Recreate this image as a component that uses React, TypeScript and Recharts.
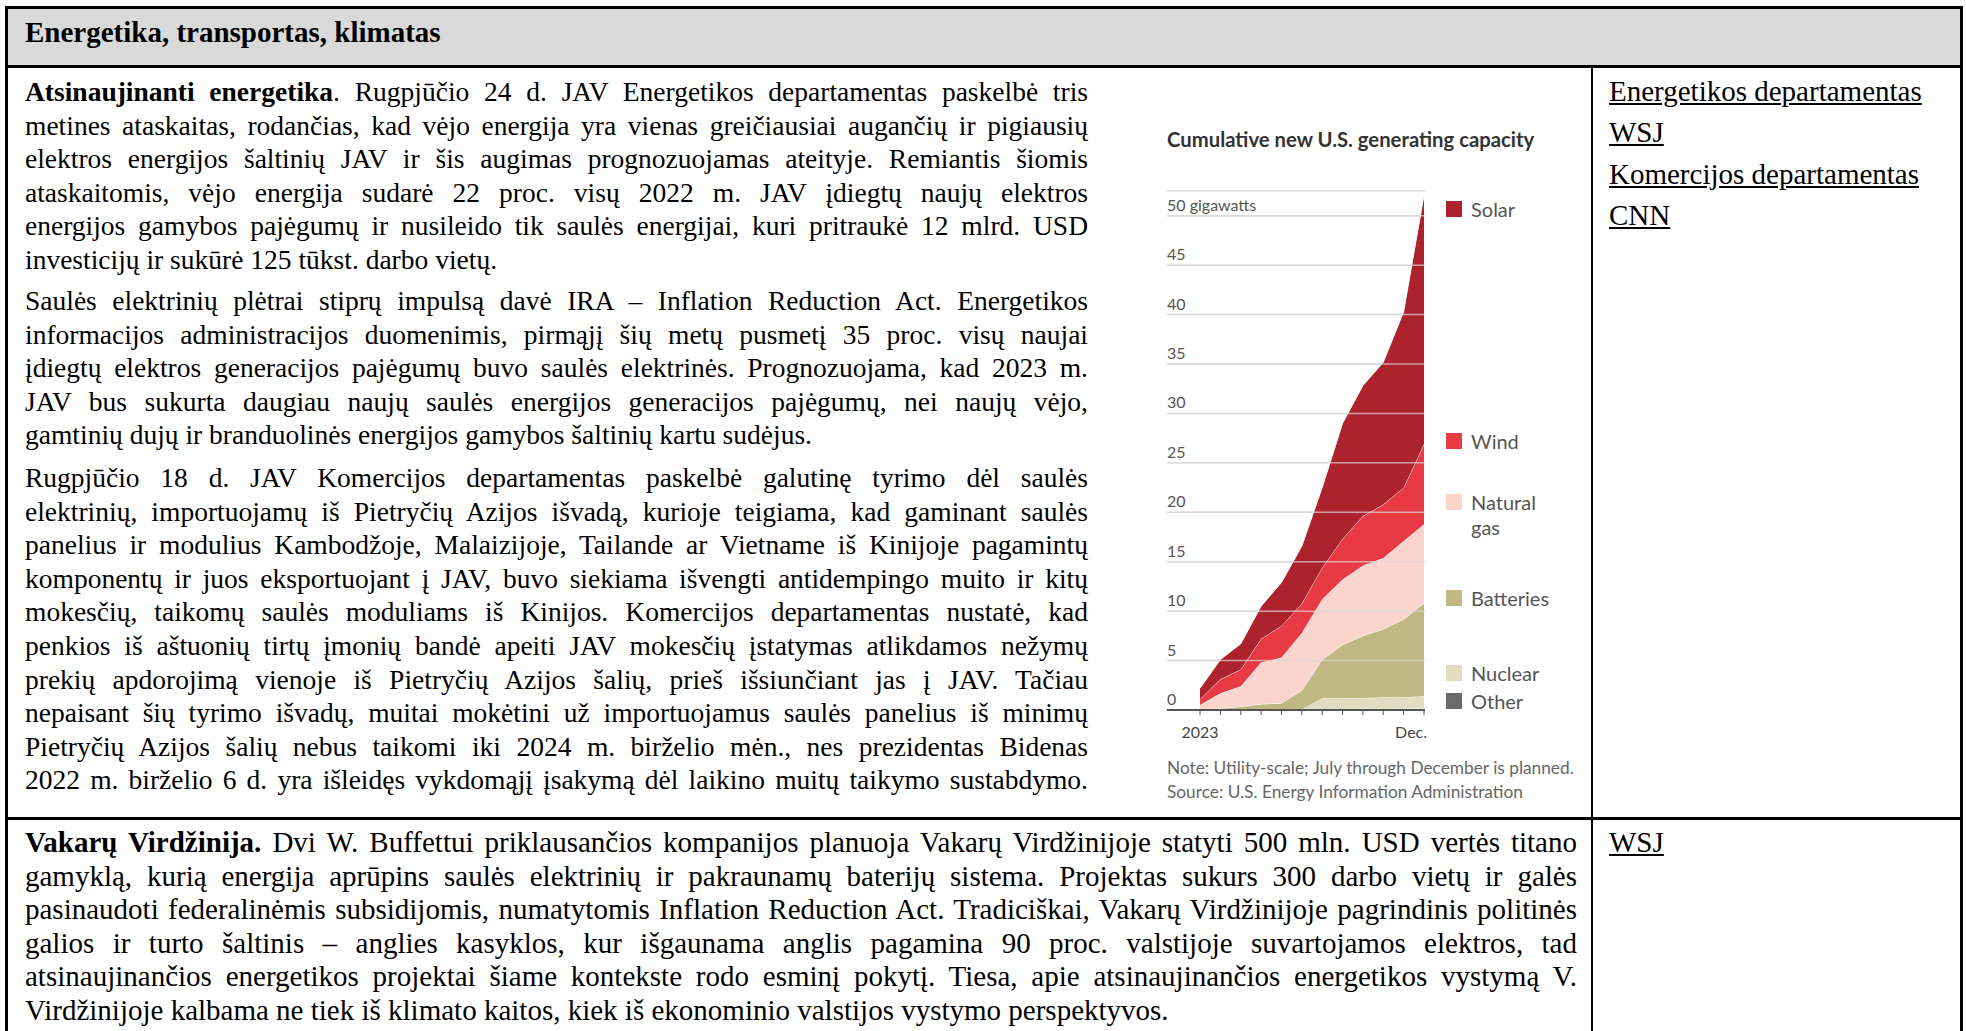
import React from 'react';
import { AreaChart, Area, XAxis, YAxis, CartesianGrid, ReferenceLine } from 'recharts';

// monthly cumulative additions in 2023, GW (layer increments, bottom to top)
const months = ['Jan', 'Feb', 'Mar', 'Apr', 'May', 'Jun', 'Jul', 'Aug', 'Sep', 'Oct', 'Nov', 'Dec'];
const monthLabels = ['2023', '', '', '', '', '', '', '', '', '', '', 'Dec.'];
const other = [0.02, 0.03, 0.05, 0.06, 0.07, 0.08, 0.1, 0.1, 0.12, 0.13, 0.14, 0.15];
const nuclear = [0, 0, 0, 0, 0, 0, 1.1, 1.1, 1.1, 1.15, 1.15, 1.25];
const batteries = [0.05, 0.14, 0.3, 0.54, 0.63, 1.9, 3.9, 5.4, 6.3, 6.9, 7.9, 9.4];
const naturalGas = [0.43, 1.53, 2.05, 4.2, 4.6, 5.8, 6.1, 6.6, 7.1, 7.2, 7.9, 8.0];
const wind = [0.6, 1.4, 1.7, 2.4, 3.2, 3.0, 3.2, 4.1, 5.0, 5.4, 5.4, 8.1];
const solar = [1.1, 2.0, 2.6, 3.3, 4.4, 5.8, 8.1, 11.7, 13.2, 14.4, 17.8, 25.2];
const yTicks = [0, 5, 10, 15, 20, 25, 30, 35, 40, 45, 50];

const seriesKeys = ['other', 'nuclear', 'batteries', 'gas', 'wind', 'solar'];
const seriesNames = ['Other', 'Nuclear', 'Batteries', 'Natural gas', 'Wind', 'Solar'];
const seriesColors = ['#6b6b6b', '#e2ddc0', '#bfb883', '#fbd5cc', '#e83a45', '#ad232d'];

const data = months.map((m, i) => ({
  month: m,
  other: other[i],
  nuclear: nuclear[i],
  batteries: batteries[i],
  gas: naturalGas[i],
  wind: wind[i],
  solar: solar[i],
}));

// document text
const header = 'Energetika, transportas, klimatas';
const para1: [string, string][] = [
  ['Atsinaujinanti energetika', '. Rugpjūčio 24 d. JAV Energetikos departamentas paskelbė tris'],
  ['', 'metines ataskaitas, rodančias, kad vėjo energija yra vienas greičiausiai augančių ir pigiausių'],
  ['', 'elektros energijos šaltinių JAV ir šis augimas prognozuojamas ateityje. Remiantis šiomis'],
  ['', 'ataskaitomis, vėjo energija sudarė 22 proc. visų 2022 m. JAV įdiegtų naujų elektros'],
  ['', 'energijos gamybos pajėgumų ir nusileido tik saulės energijai, kuri pritraukė 12 mlrd. USD'],
  ['', 'investicijų ir sukūrė 125 tūkst. darbo vietų.'],
];
const para2: [string, string][] = [
  ['', 'Saulės elektrinių plėtrai stiprų impulsą davė IRA – Inflation Reduction Act. Energetikos'],
  ['', 'informacijos administracijos duomenimis, pirmąjį šių metų pusmetį 35 proc. visų naujai'],
  ['', 'įdiegtų elektros generacijos pajėgumų buvo saulės elektrinės. Prognozuojama, kad 2023 m.'],
  ['', 'JAV bus sukurta daugiau naujų saulės energijos generacijos pajėgumų, nei naujų vėjo,'],
  ['', 'gamtinių dujų ir branduolinės energijos gamybos šaltinių kartu sudėjus.'],
];
const para3: [string, string][] = [
  ['', 'Rugpjūčio 18 d. JAV Komercijos departamentas paskelbė galutinę tyrimo dėl saulės'],
  ['', 'elektrinių, importuojamų iš Pietryčių Azijos išvadą, kurioje teigiama, kad gaminant saulės'],
  ['', 'panelius ir modulius Kambodžoje, Malaizijoje, Tailande ar Vietname iš Kinijoje pagamintų'],
  ['', 'komponentų ir juos eksportuojant į JAV, buvo siekiama išvengti antidempingo muito ir kitų'],
  ['', 'mokesčių, taikomų saulės moduliams iš Kinijos. Komercijos departamentas nustatė, kad'],
  ['', 'penkios iš aštuonių tirtų įmonių bandė apeiti JAV mokesčių įstatymas atlikdamos nežymų'],
  ['', 'prekių apdorojimą vienoje iš Pietryčių Azijos šalių, prieš išsiunčiant jas į JAV. Tačiau'],
  ['', 'nepaisant šių tyrimo išvadų, muitai mokėtini už importuojamus saulės panelius iš minimų'],
  ['', 'Pietryčių Azijos šalių nebus taikomi iki 2024 m. birželio mėn., nes prezidentas Bidenas'],
  ['', '2022 m. birželio 6 d. yra išleidęs vykdomąjį įsakymą dėl laikino muitų taikymo sustabdymo.'],
];
const para4: [string, string][] = [
  ['Vakarų Virdžinija.', ' Dvi W. Buffettui priklausančios kompanijos planuoja Vakarų Virdžinijoje statyti 500 mln. USD vertės titano'],
  ['', 'gamyklą, kurią energija aprūpins saulės elektrinių ir pakraunamų baterijų sistema. Projektas sukurs 300 darbo vietų ir galės'],
  ['', 'pasinaudoti federalinėmis subsidijomis, numatytomis Inflation Reduction Act. Tradiciškai, Vakarų Virdžinijoje pagrindinis politinės'],
  ['', 'galios ir turto šaltinis – anglies kasyklos, kur išgaunama anglis pagamina 90 proc. valstijoje suvartojamos elektros, tad'],
  ['', 'atsinaujinančios energetikos projektai šiame kontekste rodo esminį pokytį. Tiesa, apie atsinaujinančios energetikos vystymą V.'],
  ['', 'Virdžinijoje kalbama ne tiek iš klimato kaitos, kiek iš ekonominio valstijos vystymo perspektyvos.'],
];
const links = ['Energetikos departamentas', 'WSJ', 'Komercijos departamentas', 'CNN'];

const SERIF = '"Liberation Serif", "Times New Roman", serif';
const SANS = 'Lato, "Open Sans", sans-serif';
const LH = 33.6;

const Para = ({ lines, left, top, width, size = 27.5, lastJustify }: { lines: [string, string][]; left: number; top: number; width: number; size?: number; lastJustify?: boolean }) => (
  <>
    {lines.map(([b, t], i) => {
      const last = i === lines.length - 1 && !lastJustify;
      return (
        <div
          key={i}
          style={{
            position: 'absolute',
            left,
            top: top + i * LH,
            width,
            height: LH,
            lineHeight: `${LH}px`,
            fontFamily: SERIF,
            fontSize: size,
            color: '#000',
            textAlign: last ? 'left' : 'justify',
            textAlignLast: last ? 'left' : 'justify',
          } as React.CSSProperties}
        >
          {b ? <b>{b}</b> : null}
          {t}
        </div>
      );
    })}
  </>
);

const renderYTick = (props: any) => {
  const { y, payload } = props;
  return (
    <text x={67} y={y - 5} fill="#555" fontSize={16} fontFamily={SANS}>
      {payload.value === 50 ? '50 gigawatts' : payload.value}
    </text>
  );
};

const renderXTick = (props: any) => {
  const { x, y, payload } = props;
  const i = months.indexOf(payload.value);
  const isLast = i === months.length - 1;
  return (
    <text x={isLast ? x + 3 : x} y={y + 21} textAnchor={isLast ? 'end' : 'middle'} fill="#444" fontSize={16} fontFamily={SANS}>
      {monthLabels[i]}
    </text>
  );
};

// legend item tops (page px), aligned with where the layers end
const legendTops = [693, 665, 590, 494, 433, 201];

const Legend = () => (
  <>
    {seriesNames.map((name, i) => (
      <div key={name} style={{ position: 'absolute', left: 1446, top: legendTops[i], fontFamily: SANS, fontSize: 20, color: '#555' }}>
        <div style={{ position: 'absolute', left: 0, top: 0, width: 16, height: 16, background: seriesColors[i] }} />
        <div style={{ position: 'absolute', left: 25, top: -4, lineHeight: '25px', width: 120 }}>
          {name === 'Natural gas' ? (
            <>
              Natural
              <br />
              gas
            </>
          ) : (
            name
          )}
        </div>
      </div>
    ))}
  </>
);

const line = (style: React.CSSProperties) => <div style={{ position: 'absolute', background: '#000', ...style }} />;

export default function App() {
  return (
    <div style={{ position: 'absolute', left: 0, top: 0, width: 1966, height: 1031, background: '#fff', overflow: 'hidden' }}>
      {/* header row */}
      <div style={{ position: 'absolute', left: 5, top: 7, width: 1957, height: 60, background: '#d9d9d9' }} />
      <div style={{ position: 'absolute', left: 25, top: 16, lineHeight: `${LH}px`, fontFamily: SERIF, fontSize: 29, fontWeight: 700 }}>{header}</div>

      {/* table lines */}
      {line({ left: 5, top: 6, width: 1958, height: 2.5 })}
      {line({ left: 5, top: 65, width: 1958, height: 2.5 })}
      {line({ left: 5, top: 817, width: 1958, height: 2.5 })}
      {line({ left: 5, top: 6, width: 2.5, height: 1030 })}
      {line({ left: 1960, top: 6, width: 2.5, height: 1030 })}
      {line({ left: 1591, top: 66, width: 2, height: 970 })}

      {/* left cell text */}
      <Para lines={para1} left={25} top={75} width={1063} />
      <Para lines={para2} left={25} top={284} width={1063} />
      <Para lines={para3} left={25} top={461} width={1063} lastJustify />
      <Para lines={para4} left={25} top={826} width={1552} size={29} />

      {/* sources */}
      {links.map((l, i) => (
        <div key={l} style={{ position: 'absolute', left: 1609, top: 75 + i * 41.4, lineHeight: `${LH}px`, fontFamily: SERIF, fontSize: 29, textDecoration: 'underline' }}>
          {l}
        </div>
      ))}
      <div style={{ position: 'absolute', left: 1609, top: 826, lineHeight: `${LH}px`, fontFamily: SERIF, fontSize: 29, textDecoration: 'underline' }}>WSJ</div>

      {/* chart */}
      <div style={{ position: 'absolute', left: 1167, top: 127, lineHeight: '24px', fontFamily: SANS, fontSize: 20.3, fontWeight: 700, color: '#333', whiteSpace: 'nowrap' }}>
        Cumulative new U.S. generating capacity
      </div>
      <div style={{ position: 'absolute', left: 1100, top: 100 }}>
        <AreaChart width={480} height={700} data={data} margin={{ top: 91, right: 155, bottom: 60, left: 27 }}>
          <CartesianGrid vertical={false} stroke="#dcdcdc" strokeWidth={1.5} />
          <XAxis
            dataKey="month"
            interval={0}
            height={30}
            padding={{ left: 33, right: 1 }}
            axisLine={{ stroke: '#555', strokeWidth: 2 }}
            tickLine={{ stroke: '#555' }}
            tickSize={5}
            tick={renderXTick}
          />
          <YAxis width={40} type="number" domain={[0, 52.5]} ticks={yTicks} interval={0} axisLine={false} tickLine={false} tick={renderYTick} />
          {seriesKeys.map((k, i) => (
            <Area
              key={k}
              type="linear"
              dataKey={k}
              name={seriesNames[i]}
              stackId="cap"
              fill={seriesColors[i]}
              fillOpacity={1}
              stroke="#fff"
              strokeWidth={1}
              isAnimationActive={false}
            />
          ))}
          {yTicks.slice(1).map((v) => (
            <ReferenceLine key={v} y={v} stroke="#d8d8d8" strokeOpacity={0.7} strokeWidth={1.5} />
          ))}
        </AreaChart>
      </div>
      <Legend />
      <div style={{ position: 'absolute', left: 1167, top: 756, lineHeight: '24px', fontFamily: SANS, fontSize: 17.3, color: '#666', whiteSpace: 'nowrap' }}>
        Note: Utility-scale; July through December is planned.
      </div>
      <div style={{ position: 'absolute', left: 1167, top: 780, lineHeight: '24px', fontFamily: SANS, fontSize: 17.3, color: '#666', whiteSpace: 'nowrap' }}>
        Source: U.S. Energy Information Administration
      </div>
    </div>
  );
}
